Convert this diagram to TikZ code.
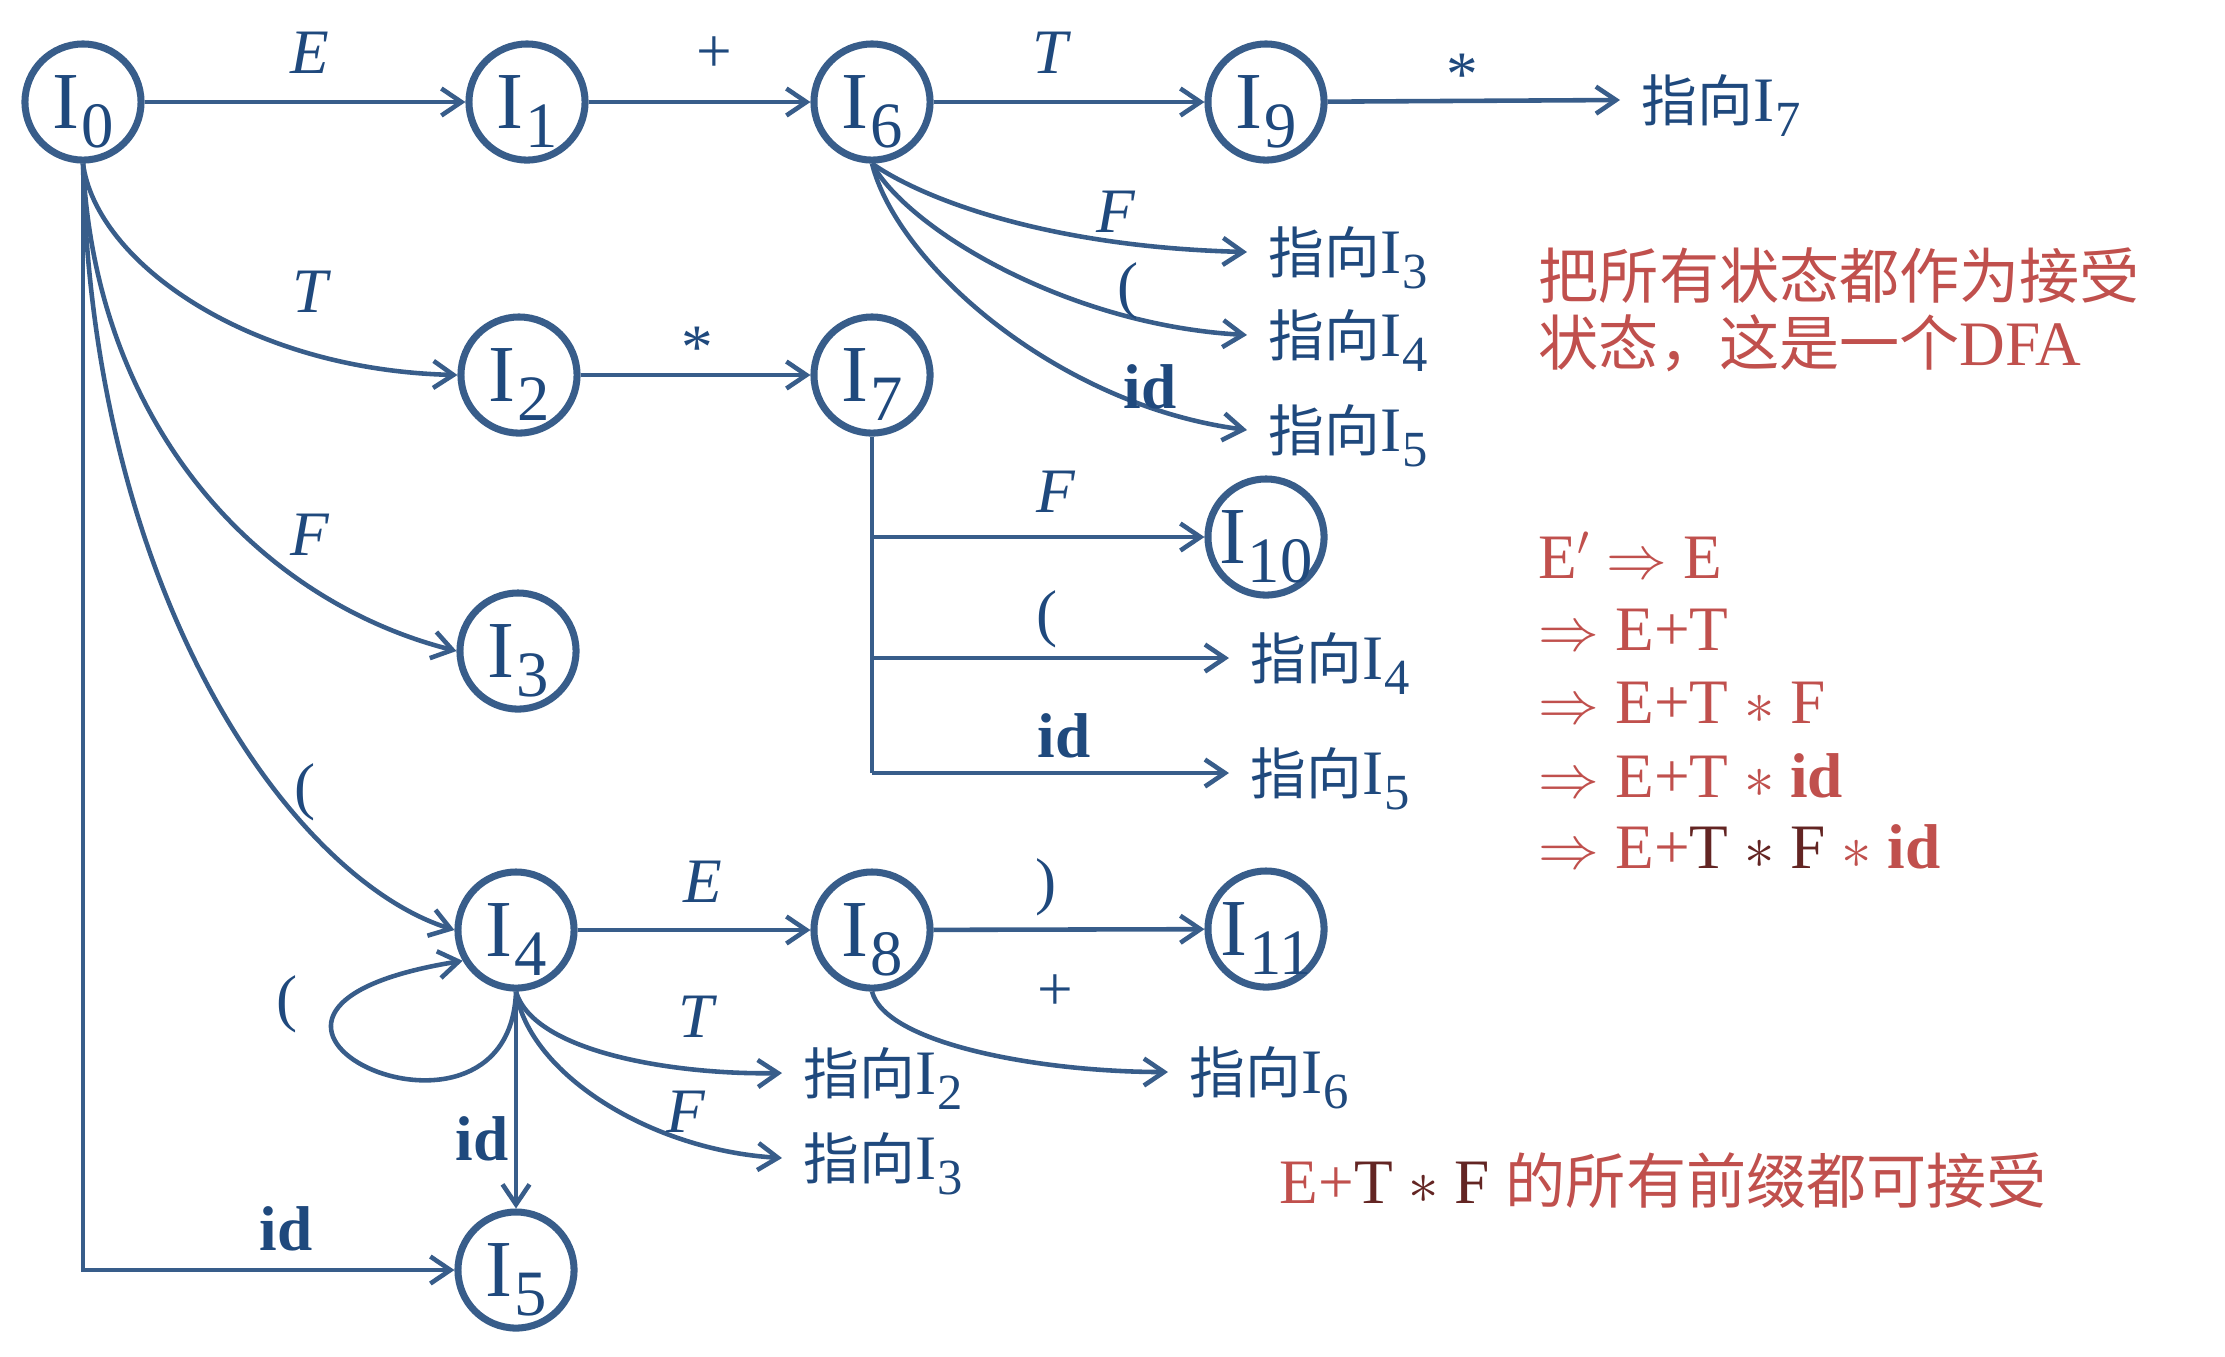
\documentclass[tikz,border=0pt]{standalone}
\usepackage{graphicx}
\usepackage{fontspec}
\setmainfont{Liberation Serif}
\newfontfamily\cjk{Noto Sans CJK SC}[Scale=0.88]
\newfontfamily\cjkr{Noto Sans CJK SC}[Scale=0.95]
\usetikzlibrary{arrows.meta}

\definecolor{lineblue}{HTML}{385D8A}
\definecolor{textblue}{HTML}{1F497D}
\definecolor{notered}{HTML}{C0504D}
\definecolor{darkred}{HTML}{632523}

\newcommand{\Is}[1]{I\kern.02em\smash{\raisebox{-.24em}{\scalebox{.8}{#1}}}}

\begin{document}
\begin{tikzpicture}[x=0.01cm, y=-0.01cm,
  state/.style={circle, draw=lineblue, line width=2pt, minimum size=1.16cm,
    inner sep=0pt, text=textblue, font=\fontsize{23}{25}\selectfont},
  goto/.style={anchor=west, inner xsep=6pt, inner ysep=0pt, text=textblue,
    font=\fontsize{18}{20}\selectfont},
  lbl/.style={anchor=base, inner sep=0pt, text=textblue, font=\fontsize{18}{20}\selectfont},
  arr/.style={draw=lineblue, line width=1.3pt, -{Straight Barb[length=0.2cm, width=0.27cm]}},
  line/.style={draw=lineblue, line width=1.3pt},
  note/.style={anchor=base west, inner sep=0pt, text=notered, font=\fontsize{18}{20}\selectfont}
]
\useasboundingbox (0,0) rectangle (2225,1356);

%etats%
\node[state] (I0) at (83,102) {\Is{0}};
\node[state] (I1) at (527,102) {\Is{1}};
\node[state] (I6) at (872,102) {\Is{6}};
\node[state] (I9) at (1266,102) {\Is{9}};
\node[state] (I2) at (519,375) {\Is{2}};
\node[state] (I7) at (872,375) {\Is{7}};
\node[state] (I10) at (1266,537) {\Is{10}};
\node[state] (I3) at (518,651) {\Is{3}};
\node[state] (I4) at (516,930) {\Is{4}};
\node[state] (I8) at (872,930) {\Is{8}};
\node[state] (I11) at (1266,929) {\Is{11}};
\node[state] (I5) at (516,1270) {\Is{5}};

%renvois%
\node[goto] (to7) at (1620,100) {{\cjk 指向}\Is{7}};
\node[goto] (to3a) at (1247,252) {{\cjk 指向}\Is{3}};
\node[goto] (to4a) at (1247,335) {{\cjk 指向}\Is{4}};
\node[goto] (to5a) at (1247,430) {{\cjk 指向}\Is{5}};
\node[goto] (to4b) at (1229,658) {{\cjk 指向}\Is{4}};
\node[goto] (to5b) at (1229,773) {{\cjk 指向}\Is{5}};
\node[goto] (to2) at (782,1073) {{\cjk 指向}\Is{2}};
\node[goto] (to3b) at (782,1158) {{\cjk 指向}\Is{3}};
\node[goto] (to6) at (1168,1072) {{\cjk 指向}\Is{6}};

%transitions%
\draw[arr] (I0) -- (I1);
\draw[arr] (I1) -- (I6);
\draw[arr] (I6) -- (I9);
\draw[arr] (I9) -- (to7.west);
\draw[arr] (I6.south) .. controls +(50,35) and +(-200,-5) .. (to3a.west);
\draw[arr] (I6.south) .. controls +(35,65) and +(-180,-10) .. (to4a.west);
\draw[arr] (I6.south) .. controls +(25,100) and +(-190,-25) .. (to5a.west);
\draw[arr] (I2) -- (I7);
\draw[line] (I7.south) -- (I7.south |- to5b.west);
\draw[arr] (I7.south |- I10.west) -- (I10.west);
\draw[arr] (I7.south |- to4b.west) -- (to4b.west);
\draw[arr] (I7.south |- to5b.west) -- (to5b.west);
\draw[arr] (I0.south) |- (I5.west);
\draw[arr] (I0.south) .. controls +(13,98) and +(-210,-5) .. (I2.west);
\draw[arr] (I0.south) .. controls +(12,260) and +(-200,-51) .. (I3.west);
\draw[arr] (I0.south) .. controls +(9,440) and +(-159,-50) .. (I4.west);
\draw[arr] (I4) -- (I8);
\draw[arr] (I4.south) -- (I5.north);
\draw[arr] (I4.south) .. controls +(18,62) and +(-102,2) .. (to2.west);
\draw[arr] (I4.south) .. controls +(13,82) and +(-132,-8) .. (to3b.west);
\draw[arr] (I4.south) .. controls +(-7,192) and +(-317,51) .. (I4.210);
\draw[arr] (I8) -- (I11);
\draw[arr] (I8.south) .. controls +(13,52) and +(-128,0) .. (to6.west);

%symboles%
\node[lbl] (lE1) at (310,73) {\textit{E}};
\node[lbl] (lP1) at (714,72) {+};
\node[lbl] (lT1) at (1052,73) {\textit{T}};
\node[lbl] (lS1) at (1462,95) {*};
\node[lbl] (lT2) at (312,312) {\textit{T}};
\node[lbl] (lS2) at (697,368) {*};
\node[lbl] (lF3) at (310,555) {\textit{F}};
\node[lbl] (lO4) at (305,807) {(};
\node[lbl] (lF6) at (1116,232) {\textit{F}};
\node[lbl] (lO6) at (1128,306) {(};
\node[lbl] (lI6) at (1150,408) {\textbf{id}};
\node[lbl] (lF7) at (1056,512) {\textit{F}};
\node[lbl] (lO7) at (1047,634) {(};
\node[lbl] (lI7) at (1064,757) {\textbf{id}};
\node[lbl] (lE4) at (703,902) {\textit{E}};
\node[lbl] (lC8) at (1046,902) {)};
\node[lbl] (lP8) at (1055,1010) {+};
\node[lbl] (lT4) at (698,1037) {\textit{T}};
\node[lbl] (lF4) at (686,1132) {\textit{F}};
\node[lbl] (lO4b) at (287,1019) {(};
\node[lbl] (lI4) at (482,1160) {\textbf{id}};
\node[lbl] (lI0) at (286,1250) {\textbf{id}};

%remarques%
\node[note] (n1) at (1538,298) {\cjkr 把所有状态都作为接受};
\node[note] (n2) at (1538,365) {{\cjkr 状态，这是一个}DFA};
\node[note] (d1) at (1538,578) {E$'$ $\Rightarrow$ E};
\node[note] (d2) at (1538,650) {$\Rightarrow$ E+T};
\node[note] (d3) at (1538,723) {$\Rightarrow$ E+T $\ast$ F};
\node[note] (d4) at (1538,797) {$\Rightarrow$ E+T $\ast$ \textbf{id}};
\node[note] (d5) at (1538,868) {$\Rightarrow$ E+\textcolor{darkred}{T $\ast$ F} $\ast$ \textbf{id}};
\node[note] (pre) at (1279,1203) {E+\textcolor{darkred}{T $\ast$ F} {\cjkr 的所有前缀都可接受}};
\end{tikzpicture}
\end{document}
